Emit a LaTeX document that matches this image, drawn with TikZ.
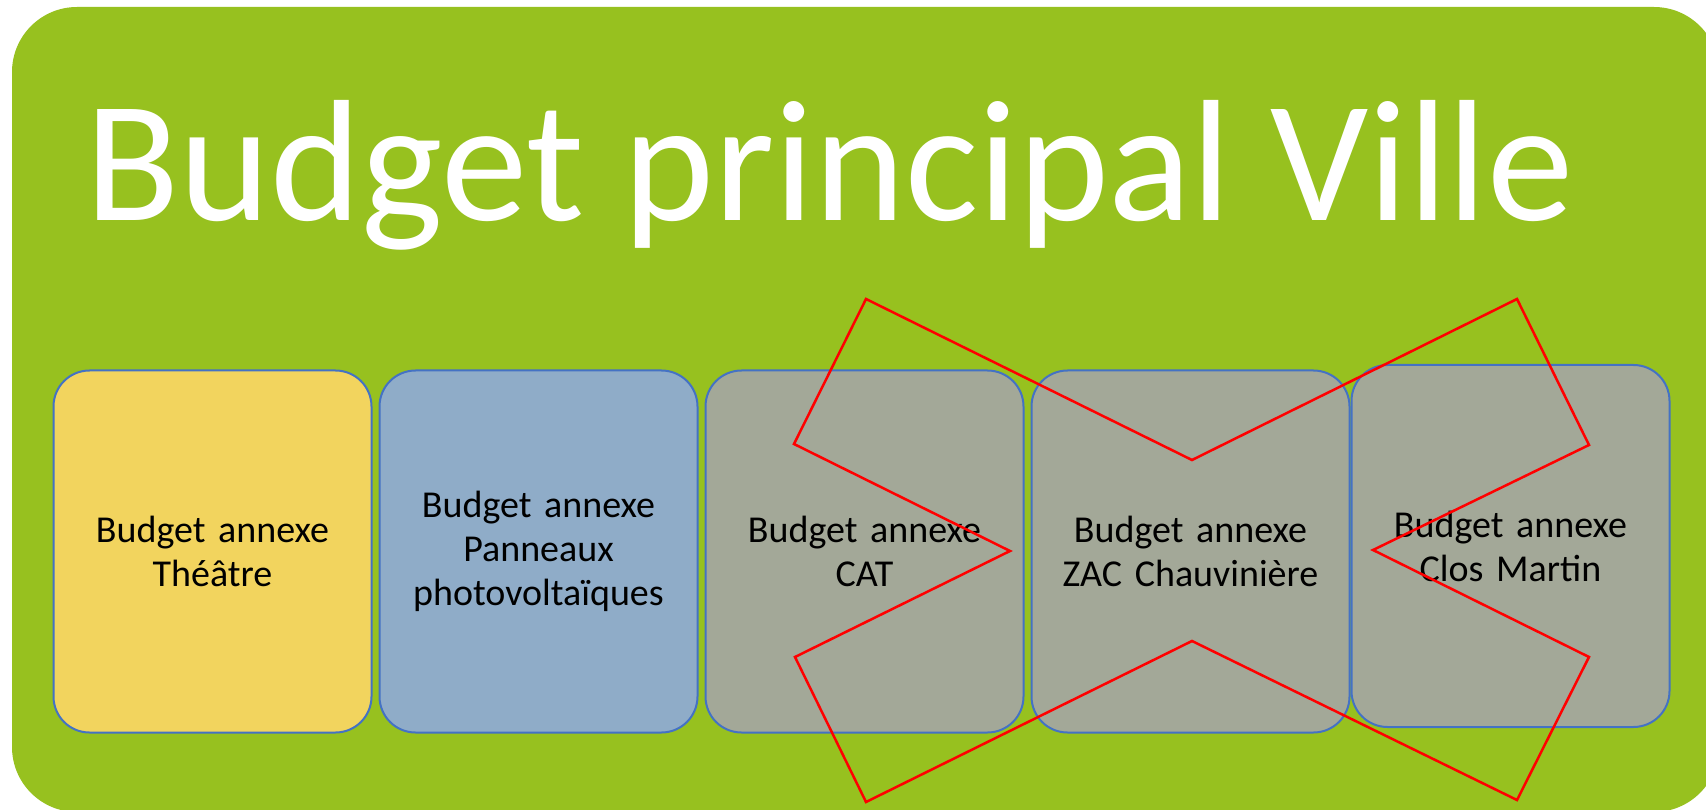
\documentclass[tikz,border=0pt]{standalone}
\usepackage{fontspec}
\setmainfont{Carlito}
\usetikzlibrary{positioning}
\definecolor{villegreen}{RGB}{151,193,31}
\definecolor{theatreyellow}{RGB}{242,212,94}
\definecolor{panelblue}{RGB}{143,172,200}
\definecolor{annexgray}{RGB}{163,168,152}
\definecolor{edgeblue}{RGB}{68,114,196}
\tikzstyle{annexe} = [rectangle, rounded corners=36pt, minimum width=318pt, minimum height=362pt, text width=300pt, inner sep=4pt, align=center, draw=edgeblue, line width=2pt, font=\fontsize{38}{44}\selectfont]
\tikzstyle{cross} = [draw=red, line width=2.5pt, line join=miter]

\begin{document}
\begin{tikzpicture}[x=1pt, y=-1pt, node distance=6pt]
    \useasboundingbox (0,0) rectangle (1706,810);
    \clip (0,0) rectangle (1706,810);
    \fill[white] (0,0) rectangle (1706,810);
    \fill[villegreen, rounded corners=65pt] (12,7) rectangle (1719,812);
    \node (title) [anchor=base, text=white, inner sep=0pt, font=\fontsize{173}{200}\selectfont] at (830,221) {Budget principal Ville};

    \node (theatre) [annexe, fill=theatreyellow] at (212.5,551.5) {Budget annexe\\Théâtre};
    \node (panneaux) [annexe, fill=panelblue, right=of theatre] {Budget annexe\\Panneaux\\photovoltaïques};
    \node (cat) [annexe, fill=annexgray, right=of panneaux] {Budget annexe\\CAT};
    \node (zac) [annexe, fill=annexgray, right=of cat] {Budget annexe\\ZAC Chauvinière};
    \node (closmartin) [annexe, fill=annexgray, right=0pt of zac, yshift=5.5pt] {Budget annexe\\Clos Martin};

    % croix rouge sur les budgets supprimes
    \draw[cross] (866,299) -- (1192,460) -- (1517,299) -- (1589,445) -- (1373,550) -- (1589,657)
        -- (1517,800) -- (1192,641) -- (866,802) -- (795,657) -- (1010,551) -- (794,444) -- cycle;
\end{tikzpicture}
\end{document}
